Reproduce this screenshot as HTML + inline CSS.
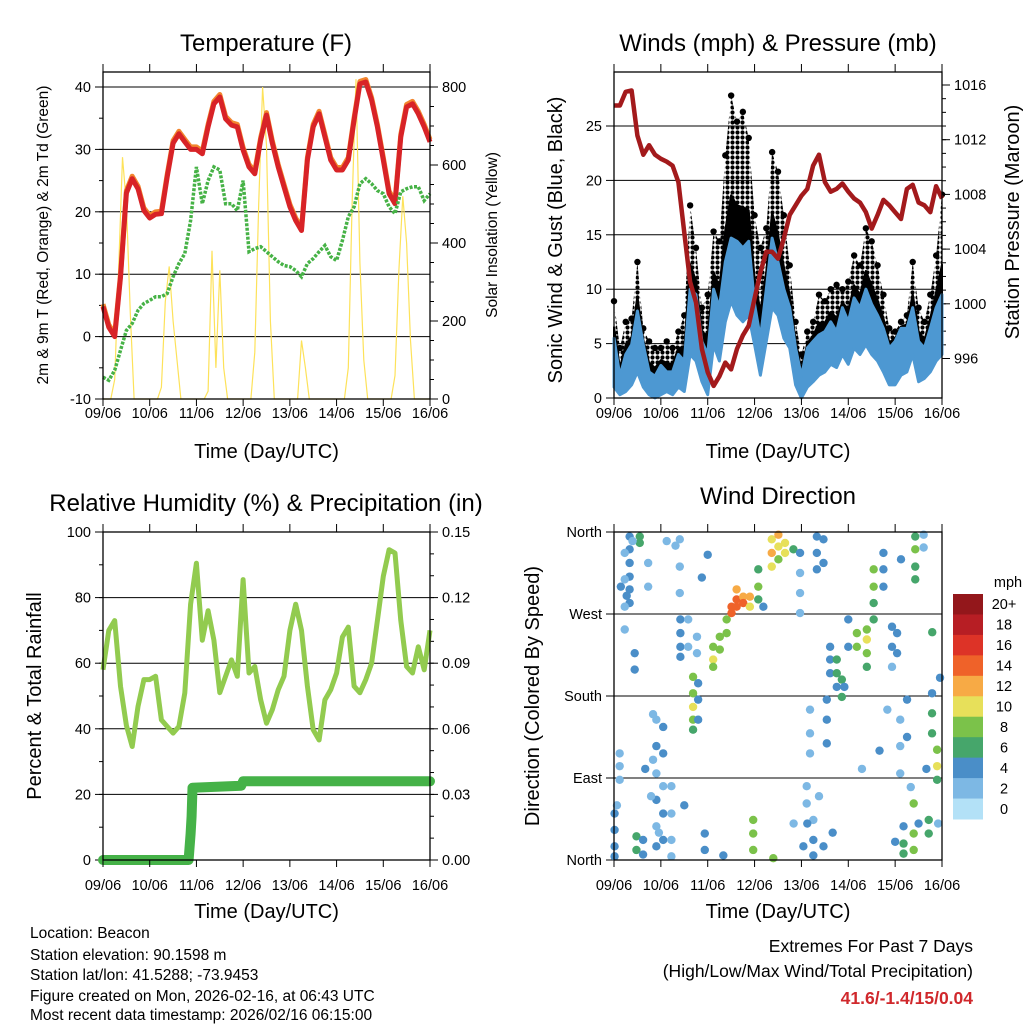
<!DOCTYPE html>
<html><head><meta charset="utf-8"><style>
html,body{margin:0;padding:0;background:#fff;}
svg{display:block;font-family:"Liberation Sans",Arial,sans-serif;}
</style></head><body>
<svg id="chart" width="1024" height="1024" viewBox="0 0 1024 1024" xmlns="http://www.w3.org/2000/svg">
<defs>
<pattern id="gustdots" x="0" y="0" width="5" height="5" patternUnits="userSpaceOnUse">
<circle cx="2.5" cy="2.5" r="2.1" fill="#000"/>
</pattern>
</defs>
<rect x="0" y="0" width="1024" height="1024" fill="#fff"/>
<g id="p1"></g>
<g id="p2"></g>
<g id="p3"></g>
<g id="p4"></g>
<g font-size="15.5" fill="#000">
<text x="30" y="938">Location: Beacon</text>
<text x="30" y="960">Station elevation: 90.1598 m</text>
<text x="30" y="980">Station lat/lon: 41.5288; -73.9453</text>
<text x="30" y="1001">Figure created on Mon, 2026-02-16, at 06:43 UTC</text>
<text x="30" y="1020">Most recent data timestamp: 2026/02/16 06:15:00</text>
</g>
<g font-size="17.5" text-anchor="end">
<text x="973" y="952">Extremes For Past 7 Days</text>
<text x="973" y="977">(High/Low/Max Wind/Total Precipitation)</text>
<text x="973" y="1004" font-weight="bold" fill="#d0282c">41.6/-1.4/15/0.04</text>
</g>
</svg>
<script>
// ---------- DATA (3-hourly samples from 09/06 00 UTC) ----------
const dayLabels = ["09/06","10/06","11/06","12/06","13/06","14/06","15/06","16/06"];
const tempF = [4.8,1.5,0,9.5,23,25.3,23.7,20.2,19,19.6,19.7,25.6,31,32.5,31.2,30,30,29.3,33.6,37.3,38.4,34.9,33.9,33.6,29.9,27.2,26.1,31.5,35.5,31,27.2,24,20.8,18.6,17,28.3,33.6,35.7,32,28.3,26.7,26.7,28.3,34.7,40.5,40.8,37.9,33.6,28.3,22.9,21.3,32,36.8,37.3,35.7,33.6,31.2];
const dewF = [-6.5,-7,-5.4,-2.2,1,2.1,4.2,5.3,5.8,6.4,6.4,6.9,9.6,11.7,13.3,18.6,27.2,21.3,25,27.2,26.7,21.3,21.3,20.2,25,13.6,14.1,14.4,13.6,12.8,12,11.4,11.2,10.6,9.6,11.7,12.5,13.6,14.6,12.8,12.2,15.4,19.2,20.8,24.5,25.3,24.5,23.4,22.9,20.8,19.7,23.2,23.7,24,24,21.8,22.9];
// solar insolation, 2-hourly
const solar = [0,0,0,50,330,620,500,220,0,0,0,0, 0,0,0,30,250,340,200,100,0,0,0,0, 0,0,0,20,380,80,330,80,0,0,0,0, 0,0,0,120,500,800,650,200,0,0,0,0, 0,0,0,150,80,0,0,0,0,0,0,0, 0,0,0,80,500,820,350,100,0,0,0,0, 0,0,0,60,330,520,400,150,0,0,0,0, 0];
const pressureMb = [1014.5,1014.5,1015.5,1015.6,1012.3,1010.9,1011.6,1010.9,1010.6,1010.4,1010.1,1008.9,1005.2,1001.6,1000.1,996.7,995,994,994.7,995.7,995.2,996.7,997.7,998.4,1000.4,1002.3,1003.8,1003.8,1003.3,1004.8,1006.5,1007.2,1007.9,1008.4,1010.1,1010.9,1008.9,1008.2,1008.4,1008.8,1008.2,1007.7,1007.4,1006.7,1005.5,1006.5,1007.6,1007.2,1006.7,1006.2,1008.4,1008.7,1007.4,1007.2,1006.7,1008.6,1007.7];
const windHi = [5.5,2,4,4.9,8,4.9,2.4,2,3,2.4,2.4,4,3.4,10,9.5,5.2,4,10,8.3,12.5,14.7,14.4,13.8,14.4,8.6,5.5,10,14.7,12.5,10,8.3,4.6,2,4.6,5.2,5.8,6.1,7,6.1,8.3,7,9.2,8.3,10,8.6,7.6,6.4,4.6,5.2,6.4,6.4,8.3,5.2,4.6,6.4,8.3,9.5];
const windLo = [1,0.3,0.6,1.2,2.4,1,0.3,0,0.3,0.6,0.3,1,0.6,4,3.4,1.5,0.3,4.9,3.4,7,8.9,7.6,7,7.6,4.9,2.1,5.2,8.3,7.6,5.5,4.6,1.2,0,1,1.5,2.1,2.4,3.1,2.8,4,3.1,4.6,4,4.9,4,3.4,2.4,1.2,1.2,2.1,2.4,4,1.5,1.8,2.4,3.4,4];
const gustHi = [8.9,4.6,7,7.3,12.5,6.4,5.2,4.6,4.6,5.2,4.6,6.1,7.6,17.7,13.8,8.3,9.5,15.3,14.4,22.3,27.8,25.4,26.3,23.9,16.8,13.8,15.6,22.6,20.8,16.8,12.2,7,4,6.1,7,9.5,8.9,10,10.4,10,10.7,13.1,12.2,15.6,14.4,12.2,9.5,6.4,6.1,7,7.6,12.5,8.3,7,9.5,13.1,18.7];
const rhPct = [58,70,73,53,41,34.6,46.8,55,55,56,42.7,40.7,38.7,40.7,50.9,78,90.5,67,76,67,51,56,61,56,85.5,57,59,48.8,41.7,45.8,51.9,56,70,78,70,53,39.7,36.6,48.8,51.9,57,68,71,53,51,55,60,73,86.5,94.6,93.6,73,59,57,65,58,70];
const precipHours = [0,44,44.5,45,45.5,46,71,72,168];
const precipIn = [0,0,0.006,0.012,0.02,0.033,0.034,0.036,0.036];
// wind direction scatter: hour, degrees, speed (mph)
const dirHours = [8,8,8,8,8,8,5.5,5.5,5.5,5.5,0.3,0.3,0.3,0.3,2.9,2.9,2.9,10.6,10.6,13.2,13.2,17.5,17.5,21.7,21.7,21.7,21.7,21.7,21.7,25.2,25.2,25.2,25.2,25.2,33.7,33.7,33.7,34,34,34,34,38,38,40.5,40.5,40.5,40.5,40.5,43.1,43.1,43.1,42.5,42.5,50.8,50.8,50.8,54.2,54.2,57.7,57.7,60.2,60.2,62.8,62.8,62.8,66.2,66.2,69.6,69.6,73.9,73.9,73.9,76.5,80.8,80.8,80.8,84.2,84.2,84.2,87.6,87.6,91.9,95.3,95.3,95.3,95.3,103.9,103.9,103.9,107.3,107.3,110.7,110.7,110.7,114.1,114.1,114.1,116.7,116.7,120,120,124.4,124.4,129.5,129.5,129.5,129.5,133,133,133,133,138,138,138,142.4,142.4,142.4,145,145,154.3,154.3,154.3,154.3,158.6,158.6,162.9,162.9,162.9,165.5,165.5,165.5,11.5,11.5,14.9,14.9,29.4,29.4,29.4,29.4,46.5,46.5,71.3,71.3,71.3,81.6,102.1,102.1,102.1,107.3,98.7,98.7,148.3,148.3,148.3,153.5,153.5,153.5,161.2,161.2,100.4,100.4,100.4,109,109,109,146.6,146.6,146.6,150.1,150.1,20,20,1.5,3.5,6.5,9.5,16,19,23,27,31.5,36,45,48,56,92,97,99,105,112,118,127,136,140,144,147,152,156,160,163,166,167];
const dirDeg = [355,341,326,311,297,282,337,308,278,253,51,33,15,4,117,103,88,227,209,355,348,326,300,154,125,95,66,37,15,146,117,81,51,22,352,322,293,264,249,234,223,264,234,201,183,168,154,143,194,176,154,245,227,234,220,212,245,231,264,249,278,271,297,286,278,289,282,289,278,319,300,286,278,352,337,322,357,344,330,348,337,341,337,315,293,271,355,337,319,352,326,234,220,205,220,205,190,198,179,264,234,249,234,253,242,227,212,319,300,282,264,337,319,300,256,234,212,249,227,355,341,322,308,357,343,183,161,139,121,103,88,26,11,22,6,81,51,22,4,29,11,44,29,11,2,44,22,5,15,81,62,37,18,7,62,29,11,44,29,165,139,117,176,154,128,154,125,95,176,135,160,110,60,300,290,350,100,70,30,350,345,60,310,335,5,40,15,40,70,30,190,100,120,165,20,330,80,40,100,250,40,200,240,140,60];
const dirSpd = [3,4,3,4,3,3,2,2,2,2,4,4,4,4,1,1,1,4,4,6,6,1,1,2,3,2,3,2,3,3,3,2,3,3,2,2,2,4,4,4,4,2,2,7,8,9,7,6,4,4,4,2,2,8,9,7,7,7,8,8,13,14,12,14,13,11,14,12,10,6,7,6,4,10,12,9,11,10,8,10,9,6,3,2,2,1,4,3,3,3,3,4,4,4,6,6,4,6,6,3,4,7,7,8,9,7,6,7,8,6,6,4,4,4,3,4,2,4,4,6,7,6,5,2,2,4,6,5,7,9,5,5,6,4,4,2,2,2,2,4,4,7,7,7,7,2,3,4,4,1,1,4,6,5,7,7,7,6,6,1,1,1,3,3,3,1,2,2,3,3,2,2,1,3,4,1,3,2,2,1,2,4,3,4,3,2,4,3,2,3,4,2,3,2,4,3,2,3,4,6,2,4];
const speedLabels = ["20+","18","16","14","12","10","8","6","4","2","0"];
const speedColors = ["#b3e1f7","#7db8e4","#4a8ec8","#46a66b","#7bc24a","#e7e05a","#f7aa45","#ef6229","#dd3327","#b71e24","#93171b"];

// ---------- helpers ----------
const NS = "http://www.w3.org/2000/svg";
function mk(parent, tag, attrs, txt){
  const el = document.createElementNS(NS, tag);
  for (const k in attrs) el.setAttribute(k, attrs[k]);
  if (txt !== undefined) el.textContent = txt;
  parent.appendChild(el);
  return el;
}
function tx(x0,x1){ return h => x0 + h/168*(x1-x0); }
function lin(v0,v1,y0,y1){ return v => y0 + (v-v0)/(v1-v0)*(y1-y0); }
function pathFrom(xs, ys){ return xs.map((x,i)=>(i?"L":"M")+x.toFixed(1)+","+ys[i].toFixed(1)).join(""); }

function frame(g, x0,x1,y0,y1, name){
  const r = mk(g,"rect",{x:x0,y:y0,width:x1-x0,height:y1-y0,fill:"none",stroke:"#000","stroke-width":1.3});
  
  
}
function xAxis(g, x0,x1,y0,y1, labY, titleY, name){
  const X = tx(x0,x1);
  for (let d=0; d<=7; d++){
    const x = X(d*24);
    const t1 = mk(g,"line",{x1:x,x2:x,y1:y1,y2:y1+7,stroke:"#000","stroke-width":1});
    
    
    const t2 = mk(g,"line",{x1:x,x2:x,y1:y0,y2:y0-8,stroke:"#000","stroke-width":1});
    
    
    const l = mk(g,"text",{x:x,y:labY,"font-size":14.5,"text-anchor":"middle"}, dayLabels[d]);
    
    
  }
  const t = mk(g,"text",{x:(x0+x1)/2,y:titleY,"font-size":20,"text-anchor":"middle"},"Time (Day/UTC)");
  
  
}
function yTicks(g, vals, labels, Y, x, side, grid, x0, x1, name, minorStep){
  vals.forEach((v,i)=>{
    const y = Y(v);
    if (grid){
      const gl = mk(g,"line",{x1:x0,x2:x1,y1:y,y2:y,stroke:"#000","stroke-width":1});
      
      
    }
    const tk = mk(g,"line",{x1:x,x2:x+(side<0?-8:8),y1:y,y2:y,stroke:"#000","stroke-width":1});
    
    
    const lb = mk(g,"text",{x:x+(side<0?-12:12),y:y+5,"font-size":14.5,"text-anchor":side<0?"end":"start"}, labels[i]);
    
    
  });
  if (minorStep){
    const a = vals[0], b = vals[vals.length-1];
    for (let v=a; v<=b+1e-9; v+=minorStep){
      const y=Y(v);
      const m = mk(g,"line",{x1:x,x2:x+(side<0?-4:4),y1:y,y2:y,stroke:"#000","stroke-width":1});
      
      
    }
  }
}
function vTitle(g, x, y, txt, size, name){
  const t = mk(g,"text",{x:x,y:y,"font-size":size,"text-anchor":"middle",transform:`rotate(-90 ${x} ${y})`},txt);
  
  
}
function title(g, x, y, txt, name){
  const t = mk(g,"text",{x:x,y:y,"font-size":24,"text-anchor":"middle"},txt);
  
  
}
const hours3 = tempF.map((_,i)=>i*3);

// ---------- Panel 1: Temperature ----------
(function(){
  const g = document.getElementById("p1");
  const x0=103,x1=430,y0=72,y1=399;
  const X = tx(x0,x1), Y = lin(-10,40,399,87), YS = lin(0,800,399,87);
  title(g,266,51,"Temperature (F)","temperature-title");
  yTicks(g,[-10,0,10,20,30,40],["-10","0","10","20","30","40"],Y,x0,-1,true,x0,x1,"temp-y",5);
  yTicks(g,[0,200,400,600,800],["0","200","400","600","800"],YS,x1,1,false,0,0,"solar-y",50);
  const solarH = solar.map((_,i)=>i*2);
  const s = mk(g,"path",{d:pathFrom(solarH.map(X),solar.map(YS)),fill:"none",stroke:"#fde25a","stroke-width":1.2});
  
  
  const o = mk(g,"path",{d:pathFrom(hours3.map(X),tempF.map(v=>Y(v+0.4))),fill:"none",stroke:"#f2862e","stroke-width":5,"stroke-linejoin":"round"});
  
  
  const r = mk(g,"path",{d:pathFrom(hours3.map(X),tempF.map(Y)),fill:"none",stroke:"#d82327","stroke-width":5,"stroke-linejoin":"round"});
  
  
  const d = mk(g,"path",{d:pathFrom(hours3.map(X),dewF.map(Y)),fill:"none",stroke:"#46b246","stroke-width":3.5,"stroke-dasharray":"3 1.5"});
  
  
  frame(g,x0,x1,y0,y1,"temperature");
  xAxis(g,x0,x1,y0,y1,418,458,"temperature");
  vTitle(g,48,235,"2m & 9m T (Red, Orange) & 2m Td (Green)",15.5,"temp-y-axis-title");
  vTitle(g,497,235,"Solar Insolation (Yellow)",15.5,"solar-y-axis-title");
})();

// ---------- Panel 2: Winds & Pressure ----------
(function(){
  const g = document.getElementById("p2");
  const x0=614,x1=942,y0=72,y1=398;
  const X = tx(x0,x1), Y = lin(0,25,398,126), YP = lin(996,1016,358.5,85);
  title(g,778,51,"Winds (mph) & Pressure (mb)","winds-title");
  yTicks(g,[0,5,10,15,20,25],["0","5","10","15","20","25"],Y,x0,-1,true,x0,x1,"wind-y",0);
  yTicks(g,[996,1000,1004,1008,1012,1016],["996","1000","1004","1008","1012","1016"],YP,x1,1,false,0,0,"pressure-y",1);
  const xs = hours3.map(X);
  const gb = mk(g,"path",{d:pathFrom(xs,gustHi.map(Y))+"L"+pathFrom(xs.slice().reverse(),windLo.slice().reverse().map(Y)).slice(1)+"Z",fill:"url(#gustdots)",stroke:"none"});
  
  
  const gm = mk(g,"path",{d:pathFrom(xs,windHi.map((v,i)=>Y(v+(gustHi[i]-v)*0.3)))+"L"+pathFrom(xs.slice().reverse(),windLo.slice().reverse().map(Y)).slice(1)+"Z",fill:"#000",stroke:"#000","stroke-width":2,"stroke-linejoin":"round"});
  
  
  gustHi.forEach((v,i)=>{
    const c = mk(g,"circle",{cx:xs[i],cy:Y(v),r:3.2,fill:"#000"});
    
    
  });
  const wb = mk(g,"path",{d:pathFrom(xs,windHi.map(Y))+"L"+pathFrom(xs.slice().reverse(),windLo.slice().reverse().map(Y)).slice(1)+"Z",fill:"#4d98d2",stroke:"#4d98d2","stroke-width":3,"stroke-linejoin":"round"});
  
  
  const p = mk(g,"path",{d:pathFrom(xs,pressureMb.map(YP)),fill:"none",stroke:"#a31a1c","stroke-width":4.5,"stroke-linejoin":"round"});
  
  
  frame(g,x0,x1,y0,y1,"winds");
  xAxis(g,x0,x1,y0,y1,418,458,"winds");
  vTitle(g,562,240,"Sonic Wind & Gust (Blue, Black)",20,"wind-y-axis-title");
  vTitle(g,1019,222,"Station Pressure (Maroon)",20,"pressure-y-axis-title");
})();

// ---------- Panel 3: RH & Precip ----------
(function(){
  const g = document.getElementById("p3");
  const x0=103,x1=430,y0=532,y1=860;
  const X = tx(x0,x1), Y = lin(0,100,860,532), YR = lin(0,0.15,860,532);
  title(g,266,511,"Relative Humidity (%) & Precipitation (in)","humidity-title");
  yTicks(g,[0,20,40,60,80,100],["0","20","40","60","80","100"],Y,x0,-1,true,x0,x1,"rh-y",10);
  yTicks(g,[0,0.03,0.06,0.09,0.12,0.15],["0.00","0.03","0.06","0.09","0.12","0.15"],YR,x1,1,false,0,0,"precip-y",0.01);
  const rh = mk(g,"path",{d:pathFrom(hours3.map(X),rhPct.map(Y)),fill:"none",stroke:"#92cb4f","stroke-width":5,"stroke-linejoin":"round"});
  
  
  const pr = mk(g,"path",{d:pathFrom(precipHours.map(X),precipIn.map(YR)),fill:"none",stroke:"#45b248","stroke-width":10,"stroke-linecap":"round","stroke-linejoin":"round"});
  
  
  frame(g,x0,x1,y0,y1,"humidity");
  xAxis(g,x0,x1,y0,y1,890,918,"humidity");
  vTitle(g,41,696,"Percent & Total Rainfall",20,"rh-y-axis-title");
})();

// ---------- Panel 4: Wind direction ----------
(function(){
  const g = document.getElementById("p4");
  const x0=614,x1=942,y0=532,y1=860;
  const X = tx(x0,x1), Y = lin(0,360,860,532);
  title(g,778,504,"Wind Direction","direction-title");
  yTicks(g,[0,90,180,270,360],["North","East","South","West","North"],Y,x0,-1,true,x0,x1,"dir-y",0);
  dirHours.forEach((h,i)=>{
    const b = Math.min(10, Math.round(dirSpd[i]/2));
    const c = mk(g,"circle",{cx:X(h),cy:Y(dirDeg[i]),r:4.2,fill:speedColors[b]});
    
    
  });
  frame(g,x0,x1,y0,y1,"direction");
  xAxis(g,x0,x1,y0,y1,890,918,"direction");
  vTitle(g,539,696,"Direction (Colored By Speed)",20,"dir-y-axis-title");
  // colorbar
  const cb = mk(g,"g",{});
  
  
  const top=594, bh=(819-594)/11;
  speedLabels.forEach((lab,i)=>{
    const col = speedColors[10-i];
    const r = mk(cb,"rect",{x:953,y:top+i*bh,width:30,height:bh+0.5,fill:col});
    
    
    const t = mk(cb,"text",{x:1004,y:top+i*bh+bh/2+5,"font-size":14.5,"text-anchor":"middle"},lab);
    
    
  });
  const u = mk(cb,"text",{x:1008,y:587,"font-size":14.5,"text-anchor":"middle"},"mph");
  
  
})();
</script>
</body></html>
